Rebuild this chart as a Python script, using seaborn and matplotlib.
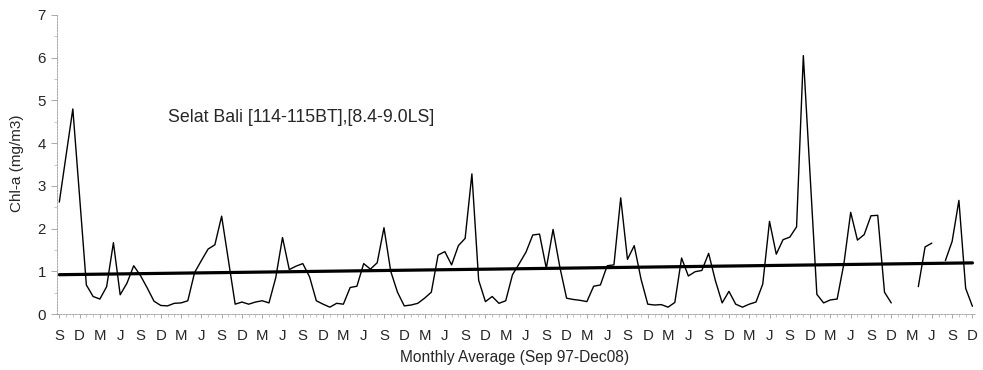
import numpy as np
import pandas as pd
import matplotlib
matplotlib.use("Agg")
import matplotlib.pyplot as plt
import seaborn as sns

# Monthly mean chlorophyll-a, Selat Bali, Sep 1997 - Dec 2008 (NaN = no data)
chl = [
    2.62, 3.71, 4.80, 2.75, 0.68, 0.41, 0.35, 0.64, 1.67, 0.45, 0.72, 1.13,   # Sep97-Aug98
    0.90, 0.61, 0.30, 0.20, 0.19, 0.25, 0.26, 0.31, 0.97, 1.25, 1.52, 1.62,   # Sep98-Aug99
    2.29, 1.26, 0.23, 0.28, 0.23, 0.28, 0.31, 0.26, 0.85, 1.79, 1.04, 1.12,   # Sep99-Aug00
    1.18, 0.87, 0.31, 0.23, 0.16, 0.25, 0.23, 0.62, 0.65, 1.18, 1.05, 1.20,   # Sep00-Aug01
    2.02, 1.00, 0.51, 0.19, 0.21, 0.25, 0.37, 0.51, 1.38, 1.46, 1.15, 1.60,   # Sep01-Aug02
    1.77, 3.28, 0.79, 0.29, 0.41, 0.25, 0.31, 0.92, 1.18, 1.45, 1.85, 1.87,   # Sep02-Aug03
    1.07, 1.98, 1.10, 0.37, 0.34, 0.32, 0.29, 0.65, 0.68, 1.13, 1.15, 2.72,   # Sep03-Aug04
    1.28, 1.60, 0.82, 0.23, 0.21, 0.22, 0.16, 0.27, 1.31, 0.89, 0.99, 1.02,   # Sep04-Aug05
    1.42, 0.78, 0.26, 0.53, 0.23, 0.16, 0.23, 0.28, 0.70, 2.17, 1.40, 1.74,   # Sep05-Aug06
    1.80, 2.04, 6.05, 3.25, 0.46, 0.26, 0.33, 0.35, 1.18, 2.38, 1.73, 1.86,   # Sep06-Aug07
    2.30, 2.31, 0.51, 0.26, np.nan, np.nan, np.nan, 0.64, 1.57, 1.66, np.nan, 1.25,  # Sep07-Aug08
    1.70, 2.66, 0.60, 0.18,                                                   # Sep08-Dec08
]
season_letters = ["S", "D", "M", "J"]
y_ticks = [0, 1, 2, 3, 4, 5, 6, 7]

month = np.arange(len(chl))
values = np.array(chl, dtype=float)
# split the series into unbroken runs so gaps stay open
segment = np.cumsum(np.isnan(values))
df = pd.DataFrame({"month": month, "chl": values, "seg": segment}).dropna()

sns.set_style("white")
plt.rcParams["font.family"] = ["Liberation Sans", "DejaVu Sans"]

fig = plt.figure(figsize=(9.83, 3.70), dpi=100)
ax = fig.add_axes([57 / 983, 56 / 370, 918 / 983, 299 / 370])

sns.lineplot(data=df, x="month", y="chl", units="seg", estimator=None,
             color="black", linewidth=1.0, ax=ax)
sns.regplot(data=df, x="month", y="chl", scatter=False, ci=None,
            color="black", line_kws={"linewidth": 2.3}, ax=ax)

ax.set_xlim(-0.34, 135.38)
ax.set_ylim(0, 7)

tick_pos = np.arange(0, len(chl), 3)
ax.set_xticks(tick_pos)
ax.set_xticklabels([season_letters[i % 4] for i in range(len(tick_pos))])
ax.set_xticks(month, minor=True)
ax.set_yticks(y_ticks)
ax.set_yticks(np.arange(0, 7.01, 0.5), minor=True)

for side in ("top", "right"):
    ax.spines[side].set_visible(False)
for side in ("left", "bottom"):
    ax.spines[side].set_color("#9a9a9a")
    ax.spines[side].set_linewidth(0.6)
    ax.spines[side].set_linestyle((0, (2, 1.5)))

ax.tick_params(axis="x", which="major", length=3, width=0.6, color="#9a9a9a",
               labelsize=10.8, pad=8, direction="out", bottom=True)
ax.tick_params(axis="x", which="minor", length=2, width=0.5, color="#b0b0b0",
               direction="out", bottom=True)
ax.tick_params(axis="y", which="major", length=4, width=0.6, color="#9a9a9a",
               labelsize=10.8, pad=4, direction="out", left=True)
ax.tick_params(axis="y", which="minor", length=2, width=0.5, color="#b0b0b0",
               direction="out", left=True)

ax.set_xlabel("Monthly Average (Sep 97-Dec08)", fontsize=11.2)
ax.set_ylabel("Chl-a (mg/m3)", fontsize=11)
ax.xaxis.set_label_coords(0.498, -0.144)
ax.yaxis.set_label_coords(-0.0436, 0.505)
ax.xaxis.label.set_va("center")
ax.yaxis.label.set_va("center")

ax.text(16.0, 4.61, "Selat Bali [114-115BT],[8.4-9.0LS]", fontsize=12.8,
        ha="left", va="center")

fig.savefig("out.png", dpi=100, facecolor="white")
